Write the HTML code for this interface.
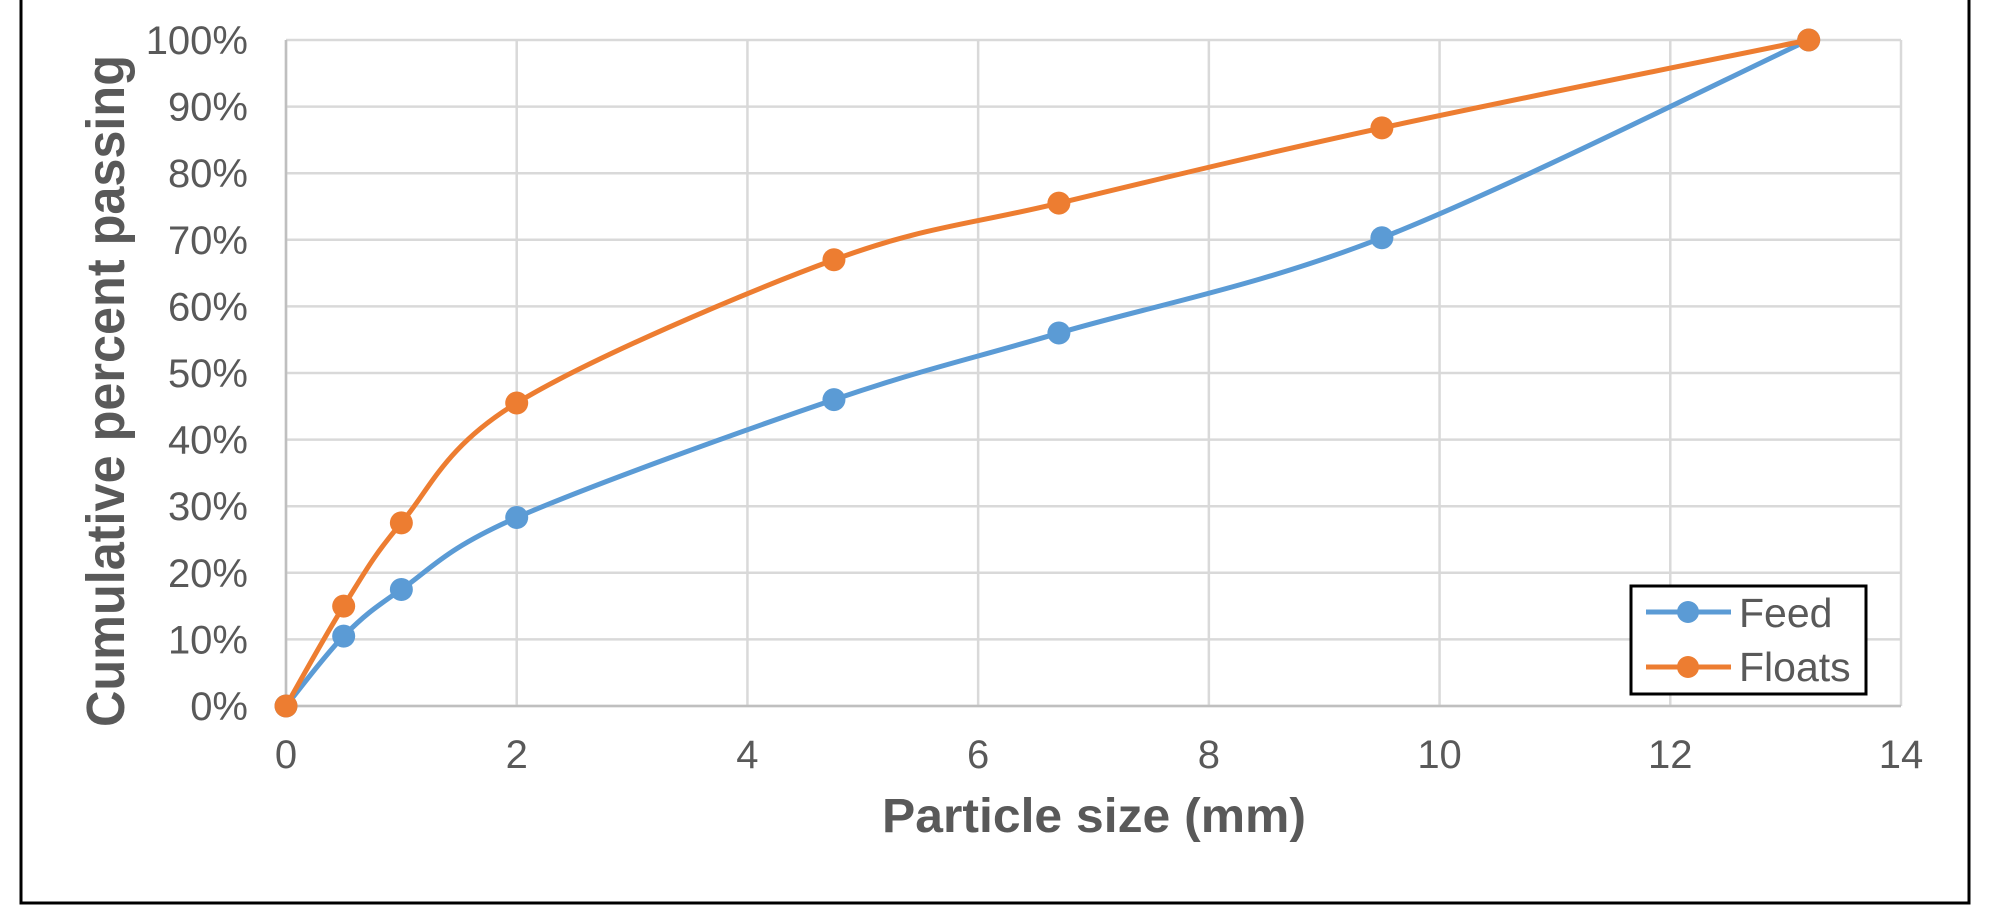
<!DOCTYPE html>
<html><head><meta charset="utf-8"><style>
html,body{margin:0;padding:0;background:#fff;}
svg{display:block;}
text{font-family:"Liberation Sans",Arial,sans-serif;fill:#595959;}
</style></head><body>
<svg id="c" width="1990" height="908" xmlns="http://www.w3.org/2000/svg">
<rect x="21" y="-5" width="1948" height="908" fill="none" stroke="#000" stroke-width="3"/>
<g id="grid" stroke="#d9d9d9" stroke-width="2.5"></g>
<g id="labels" font-size="40"></g>
<text x="124" y="391" font-size="54" font-weight="bold" text-anchor="middle" transform="rotate(-90 124 391)" textLength="672" lengthAdjust="spacingAndGlyphs">Cumulative percent passing</text>
<text x="1094" y="832" font-size="48" font-weight="bold" text-anchor="middle" textLength="424" lengthAdjust="spacingAndGlyphs">Particle size (mm)</text>
<g id="series"></g>
<rect x="1631" y="586" width="235" height="108" fill="#fff" stroke="#000" stroke-width="3"/>
<line x1="1646" y1="612" x2="1731" y2="612" stroke="#5B9BD5" stroke-width="5"/>
<circle cx="1688" cy="612" r="11" fill="#5B9BD5"/>
<line x1="1646" y1="667" x2="1731" y2="667" stroke="#ED7D31" stroke-width="5"/>
<circle cx="1688" cy="667" r="11" fill="#ED7D31"/>
<text x="1739" y="627" font-size="41">Feed</text>
<text x="1739" y="681" font-size="41">Floats</text>
</svg>
<script>
var NS="http://www.w3.org/2000/svg";
var X0=286,XU=(1901-286)/14,Y0=706,YU=(706-40)/100;
function px(x){return X0+x*XU}function py(y){return Y0-y*YU}
var g=document.getElementById('grid'),L=document.getElementById('labels');
function el(p,t,a){var e=document.createElementNS(NS,t);for(var k in a)e.setAttribute(k,a[k]);p.appendChild(e);return e;}
for(var i=0;i<=10;i++){var y=py(i*10);el(g,'line',{x1:X0,x2:1901,y1:y,y2:y});
 var t=el(L,'text',{x:248,y:y+14,'text-anchor':'end'});t.textContent=(i*10)+'%';}
for(var i=0;i<=7;i++){var x=px(i*2);el(g,'line',{x1:x,x2:x,y1:40,y2:706});
 var t=el(L,'text',{x:x,y:768,'text-anchor':'middle'});t.textContent=i*2;}
el(g,'line',{x1:X0,x2:1901,y1:706,y2:706,stroke:'#bfbfbf'});
el(g,'line',{x1:X0,x2:X0,y1:40,y2:706,stroke:'#bfbfbf'});
var xs=[0,0.5,1,2,4.75,6.7,9.5,13.2];
var S=[{c:'#5B9BD5',y:[0,10.5,17.5,28.3,46,56,70.3,100]},{c:'#ED7D31',y:[0,15,27.5,45.5,67,75.5,86.8,100]}];
var sg=document.getElementById('series');
S.forEach(function(s){
 var P=xs.map(function(x,i){return [px(x),py(s.y[i])]});
 var d='M'+P[0][0]+','+P[0][1];
 for(var i=0;i<P.length-1;i++){var p0=P[i-1]||P[i],p1=P[i],p2=P[i+1],p3=P[i+2]||P[i+1];
  var k=1/6;
  d+=' C'+(p1[0]+(p2[0]-p0[0])*k)+','+(p1[1]+(p2[1]-p0[1])*k)+' '+(p2[0]-(p3[0]-p1[0])*k)+','+(p2[1]-(p3[1]-p1[1])*k)+' '+p2[0]+','+p2[1];}
 el(sg,'path',{d:d,fill:'none',stroke:s.c,'stroke-width':5,'stroke-linejoin':'round'});
 P.forEach(function(p){el(sg,'circle',{cx:p[0],cy:p[1],r:11.5,fill:s.c});});
});
</script>
</body></html>
